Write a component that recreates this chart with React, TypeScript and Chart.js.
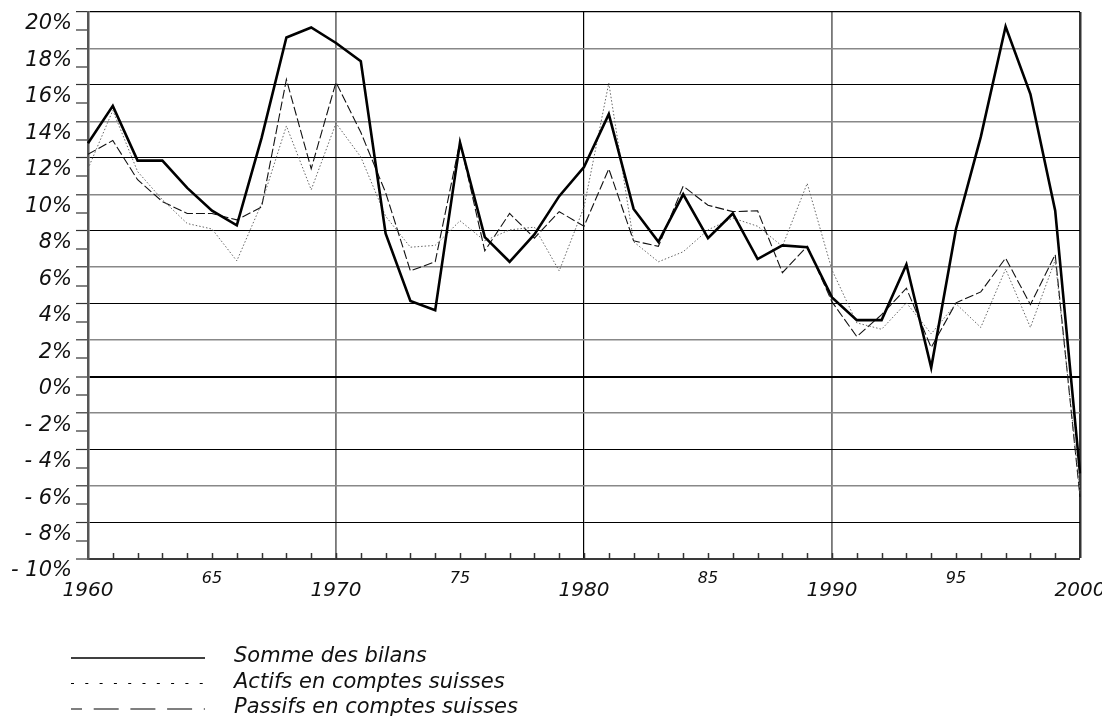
import React, { useEffect, useRef } from 'react';
import { Chart, registerables } from 'chart.js';

Chart.register(...registerables);

const years = [
  1960, 1961, 1962, 1963, 1964, 1965, 1966, 1967, 1968, 1969,
  1970, 1971, 1972, 1973, 1974, 1975, 1976, 1977, 1978, 1979,
  1980, 1981, 1982, 1983, 1984, 1985, 1986, 1987, 1988, 1989,
  1990, 1991, 1992, 1993, 1994, 1995, 1996, 1997, 1998, 1999,
  2000,
];

const sommeDesBilans = [
  12.8, 14.85, 11.85, 11.85, 10.35, 9.1, 8.3, 13.1, 18.6, 19.15,
  18.3, 17.3, 7.85, 4.15, 3.65, 12.85, 7.65, 6.3, 7.8, 9.9,
  11.5, 14.4, 9.2, 7.4, 10.0, 7.6, 8.95, 6.45, 7.2, 7.1,
  4.35, 3.1, 3.1, 6.15, 0.5, 8.1, 13.15, 19.2, 15.5, 9.1,
  -5.3,
];

const actifsComptesSuisses = [
  11.4, 14.6, 11.25, 9.7, 8.4, 8.1, 6.35, 9.5, 13.75, 10.25,
  13.9, 12.05, 8.8, 7.1, 7.2, 8.55, 7.45, 8.05, 8.2, 5.8,
  9.3, 16.1, 7.4, 6.3, 6.85, 8.05, 8.7, 8.25, 7.15, 10.6,
  5.85, 2.95, 2.6, 4.05, 2.35, 4.0, 2.7, 5.9, 2.7, 6.4,
  -6.3,
];

const passifsComptesSuisses = [
  12.2, 12.95, 10.8, 9.6, 8.95, 8.95, 8.6, 9.3, 16.3, 11.4,
  16.15, 13.4, 10.1, 5.8, 6.3, 12.9, 6.9, 8.95, 7.6, 9.05,
  8.25, 11.4, 7.45, 7.15, 10.45, 9.4, 9.05, 9.1, 5.7, 7.15,
  4.1, 2.2, 3.4, 4.85, 1.6, 4.05, 4.65, 6.5, 3.95, 6.7,
  -6.6,
];

const seriesLabels = [
  'Somme des bilans',
  'Actifs en comptes suisses',
  'Passifs en comptes suisses',
];

const yMin = -10;
const yMax = 20;

const FONT = 'DejaVu Sans';

function yLabel(v: number): string {
  if (Math.round(v) % 2 !== 0) return '';
  if (v < 0) return '- ' + Math.abs(v) + '%';
  return v + '%';
}

function xLabel(year: number): string {
  if (year % 10 === 0) return String(year);
  if (year % 5 === 0) return String(year).slice(2);
  return '';
}

const innerTicksPlugin = {
  id: 'innerTicks',
  beforeDatasetsDraw(chart: any) {
    const xs = chart.scales.x;
    const area = chart.chartArea;
    const ctx = chart.ctx;
    ctx.save();
    ctx.strokeStyle = '#333';
    ctx.lineWidth = 1.5;
    for (let i = 1; i < years.length - 1; i++) {
      const px = Math.round(xs.getPixelForTick(i)) + 0.5;
      ctx.beginPath();
      ctx.moveTo(px, area.bottom);
      ctx.lineTo(px, area.bottom - 6);
      ctx.stroke();
    }
    ctx.restore();
  },
};

const legendStyles = [
  { dash: [] as number[], offset: 0, width: 1.6, y: 658 },
  { dash: [3, 11.3], offset: 0, width: 1.2, y: 683.5 },
  { dash: [25, 11.7], offset: 14, width: 1.2, y: 709 },
];

const bottomLegendPlugin = {
  id: 'bottomLegend',
  afterDraw(chart: any) {
    const ctx = chart.ctx;
    ctx.save();
    chart.data.datasets.forEach((ds: any, i: number) => {
      const st = legendStyles[i];
      ctx.beginPath();
      ctx.setLineDash(st.dash);
      ctx.lineDashOffset = st.offset;
      ctx.strokeStyle = '#000';
      ctx.lineWidth = st.width;
      ctx.moveTo(71, st.y);
      ctx.lineTo(205, st.y);
      ctx.stroke();
      ctx.setLineDash([]);
      ctx.fillStyle = '#111';
      ctx.font = `italic 21px "${FONT}"`;
      ctx.textBaseline = 'middle';
      ctx.textAlign = 'left';
      ctx.fillText(ds.label, 234, st.y - 1);
    });
    ctx.restore();
  },
};

export default function App() {
  const canvasRef = useRef<HTMLCanvasElement | null>(null);

  useEffect(() => {
    const canvas = canvasRef.current;
    if (!canvas) return;
    const chart = new Chart(canvas, {
      type: 'line',
      data: {
        labels: years.map(String),
        datasets: [
          {
            label: seriesLabels[0],
            data: sommeDesBilans,
            borderColor: '#000',
            borderWidth: 2.6,
            pointRadius: 0,
            tension: 0,
            fill: false,
          },
          {
            label: seriesLabels[1],
            data: actifsComptesSuisses,
            borderColor: '#666',
            borderWidth: 1,
            borderDash: [1.5, 2],
            pointRadius: 0,
            tension: 0,
            fill: false,
          },
          {
            label: seriesLabels[2],
            data: passifsComptesSuisses,
            borderColor: '#111',
            borderWidth: 1.1,
            borderDash: [9, 3],
            pointRadius: 0,
            tension: 0,
            fill: false,
          },
        ],
      },
      options: {
        responsive: false,
        animation: false,
        devicePixelRatio: 1,
        layout: { padding: { top: 12, right: 22, left: 0, bottom: 0 } },
        plugins: {
          legend: { display: false },
          tooltip: { enabled: false },
          title: { display: false },
        },
        scales: {
          x: {
            type: 'category',
            offset: false,
            afterFit(scale: any) {
              scale.height = 157;
              scale.paddingLeft = 0;
              scale.paddingRight = 0;
            },
            border: { display: true, color: '#3a3a3a', width: 2 },
            grid: {
              drawTicks: false,
              color: (ctx: any) => {
                const y = years[ctx.index];
                if (y === 1980) return '#000';
                if (y === 1970 || y === 1990) return '#777';
                if (y === 2000) return '#333';
                return 'rgba(0,0,0,0)';
              },
              lineWidth: (ctx: any) => {
                const y = years[ctx.index];
                if (y === 1980) return 1.2;
                if (y === 1970 || y === 1990) return 1.8;
                if (y === 2000) return 2.5;
                return 0;
              },
            },
            ticks: {
              autoSkip: false,
              maxRotation: 0,
              minRotation: 0,
              padding: 3,
              color: '#111',
              callback: (_v: any, i: number) => xLabel(years[i]),
              font: (ctx: any) => {
                const y = years[ctx.index];
                if (y !== undefined && y % 10 === 0) {
                  return { family: FONT, size: 20, style: 'italic', lineHeight: 2.85 };
                }
                return { family: FONT, size: 16, style: 'italic', lineHeight: 2.06 };
              },
            },
          },
          y: {
            type: 'linear',
            min: yMin,
            max: yMax,
            afterFit(scale: any) {
              scale.width = 88;
              scale.paddingTop = 0;
              scale.paddingBottom = 0;
            },
            border: { display: true, color: '#555', width: 2.5 },
            grid: {
              drawTicks: true,
              tickLength: 12,
              tickWidth: 1.2,
              tickColor: '#333',
              color: (ctx: any) => {
                const v = ctx.tick ? Math.round(ctx.tick.value) : 0;
                if (Math.abs(v) % 2 === 1) return 'rgba(0,0,0,0)';
                if (v === 0) return '#000';
                if (v === yMin) return '#3a3a3a';
                if (v === yMax) return '#000';
                if (Math.abs(v) % 4 === 0) return '#000';
                return '#888';
              },
              lineWidth: (ctx: any) => {
                const v = ctx.tick ? Math.round(ctx.tick.value) : 0;
                if (Math.abs(v) % 2 === 1) return 0;
                if (v === 0) return 2;
                if (v === yMin) return 2;
                if (v === yMax) return 1.2;
                if (Math.abs(v) % 4 === 0) return 1;
                return 1.6;
              },
            },
            ticks: {
              stepSize: 1,
              autoSkip: false,
              padding: 4,
              labelOffset: 12,
              color: '#111',
              font: { family: FONT, size: 21, style: 'italic' },
              callback: (v: any) => yLabel(Number(v)),
            },
          },
        },
      },
      plugins: [innerTicksPlugin, bottomLegendPlugin],
    } as any);
    return () => chart.destroy();
  }, []);

  return (
    <div style={{ position: 'absolute', left: 0, top: 0, width: 1102, height: 716, background: '#fff' }}>
      <canvas ref={canvasRef} width={1102} height={716} style={{ display: 'block' }} />
    </div>
  );
}
